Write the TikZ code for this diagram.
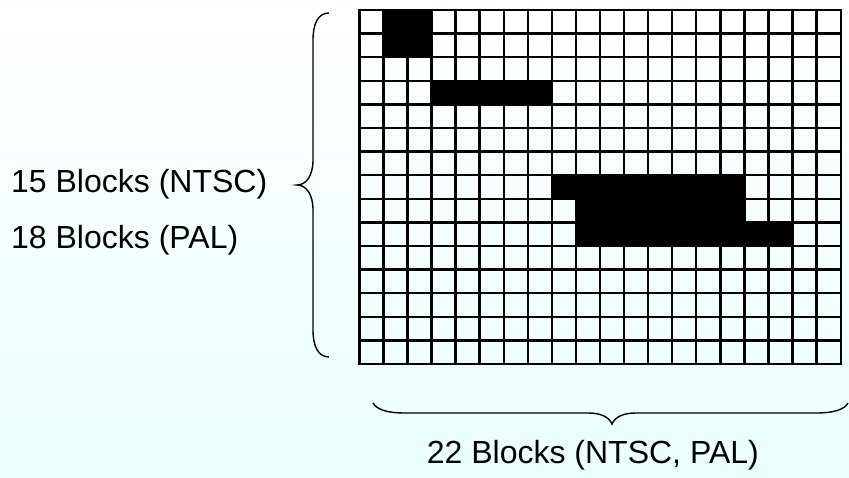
\documentclass[tikz,border=0pt]{standalone}
\usepackage{fontspec}
\setmainfont{Liberation Sans}
\begin{document}
\begin{tikzpicture}[x=1pt,y=-1pt,
  gridline/.style={line width=2.4pt,black,line cap=rect},
  bracestroke/.style={line width=1.4pt,black},
  label/.style={inner sep=0pt,font=\fontsize{32}{38}\selectfont}]
% page and background wash
\useasboundingbox (0,0) rectangle (849,478);
\shade[top color=white,bottom color={rgb,255:red,234;green,255;blue,255}]
  (0,0) rectangle (849,478);

% block grid geometry: 20 columns x 15 rows
\def\gx{359.3}\def\gy{10}\def\cw{24.07}\def\rh{23.6}

% filled blocks: {first col/last col/row}
\foreach \ca/\cb/\r in {1/2/0,1/2/1,3/7/3,8/15/7,9/15/8,9/17/9}
  \fill[black] ({\gx+\ca*\cw},{\gy+\r*\rh}) rectangle ({\gx+(\cb+1)*\cw},{\gy+(\r+1)*\rh});

% grid lines
\foreach \c in {0,...,20}
  \draw[gridline] ({\gx+\c*\cw},\gy) -- ({\gx+\c*\cw},{\gy+15*\rh});
\foreach \r in {0,...,15}
  \draw[gridline] (\gx,{\gy+\r*\rh}) -- ({\gx+20*\cw},{\gy+\r*\rh});

% left brace
\coordinate (lbtop) at (329,13);
\coordinate (lbtip) at (297,185);
\coordinate (lbbot) at (329,357);
\draw[bracestroke] (lbtop) .. controls (318,13) and (313,24) .. (313,40)
  -- (313,160) .. controls (313,176) and (306,185) .. (lbtip)
  .. controls (306,185) and (313,194) .. (313,210)
  -- (313,330) .. controls (313,346) and (318,357) .. (lbbot);

% bottom brace
\coordinate (bbleft) at (373,403);
\coordinate (bbtip) at (612,424);
\coordinate (bbright) at (848,403);
\draw[bracestroke] (bbleft) .. controls (377,410) and (388,413) .. (405,413)
  -- (588,413) .. controls (601,413) and (609,417) .. (bbtip)
  .. controls (615,417) and (623,413) .. (636,413)
  -- (816,413) .. controls (833,413) and (844,410) .. (bbright);

% labels
\node[label,anchor=west] (ntsc) at (11,184) {15 Blocks (NTSC)};
\node[label,anchor=west] (pal) at (11,240) {18 Blocks (PAL)};
\node[label,anchor=east] (width) at (759,455) {22 Blocks (NTSC, PAL)};
\end{tikzpicture}
\end{document}
